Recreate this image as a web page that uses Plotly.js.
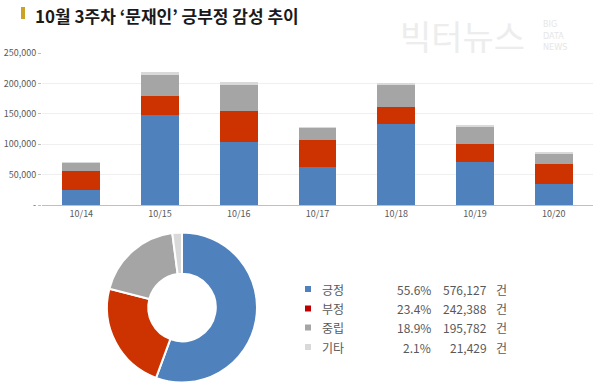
<!DOCTYPE html>
<html><head><meta charset="utf-8">
<script src="https://cdn.plot.ly/plotly-3.0.1.min.js"></script>
<style>html,body{margin:0;padding:0;background:#fff;}#chart{width:600px;height:389px;}</style>
</head><body><div id="chart"></div>
<script>
const dates = ['10/14','10/15','10/16','10/17','10/18','10/19','10/20'];
const positive = [24700,148400,103300,63200,133000,70900,34600];
const negative = [31300,30200,50600,44000,28000,29100,33000];
const neutral  = [13200,35700,43900,19200,35700,28000,16500];
const other    = [1600,4400,3900,1600,3900,3300,2700];
const seriesNames = ['긍정','부정','중립','기타'];
const barColors = ['#4F81BD','#CC3300','#A5A5A5','#D9D9D9'];
const legendColors = ['#4F81BD','#C00000','#A5A5A5','#D9D9D9'];
const totalValues = [576127,242388,195782,21429];
const yTickVals = [0,50000,100000,150000,200000,250000];
const yTickText = ['-','50,000','100,000','150,000','200,000','250,000'];

const font = "'Noto Sans CJK KR', 'Noto Sans', sans-serif";
const series = [positive, negative, neutral, other];
const traces = series.map((s,i)=>({
  type:'bar', x:dates, y:s, name:seriesNames[i],
  marker:{color:barColors[i]}, xaxis:'x', yaxis:'y', hoverinfo:'skip'
}));
traces.push({
  type:'pie', labels:seriesNames, values:totalValues, sort:false, direction:'clockwise',
  rotation:0, hole:0.45, textinfo:'none', hoverinfo:'skip',
  marker:{colors:barColors, line:{color:'#ffffff', width:2}},
  domain:{x:[107/600,257/600], y:[1-382.5/389, 1-232.5/389]}
});

const total = totalValues.reduce((a,b)=>a+b,0);
const annotations = [
  {xref:'paper', yref:'paper', x:33/600, y:1-16/389, xanchor:'left', yanchor:'middle',
   text:'<b>10월 3주차 ‘문재인’ 긍부정 감성 추이</b>', showarrow:false,
   font:{family:font, size:17, color:'#1a1a1a'}},
  {xref:'paper', yref:'paper', x:398/600, y:1-35/389, xanchor:'left', yanchor:'middle',
   text:'빅터뉴스', showarrow:false, font:{family:font, size:34, color:'#EDEDED'}},
  {xref:'paper', yref:'paper', x:541/600, y:1-35/389, xanchor:'left', yanchor:'middle',
   text:'BIG<br>DATA<br>NEWS', align:'left', showarrow:false, font:{family:'DejaVu Sans Condensed, sans-serif', size:9, color:'#E6E6E6'}}
];
const shapes = [
  {type:'rect', xref:'paper', yref:'paper', x0:21/600, x1:25/600, y0:1-19/389, y1:1-7/389,
   fillcolor:'#C9A227', line:{width:0}}
];
const rowY = [289, 308.5, 327.5, 347];
seriesNames.forEach((n,i)=>{
  const y = 1-rowY[i]/389;
  shapes.push({type:'rect', xref:'paper', yref:'paper', x0:305/600, x1:311/600,
    y0:y-3/389, y1:y+3/389, fillcolor:legendColors[i], line:{width:0}});
  annotations.push({xref:'paper', yref:'paper', x:320/600, y:y, xanchor:'left', yanchor:'middle',
    text:n, showarrow:false, font:{family:font, size:12, color:'#595959'}});
  annotations.push({xref:'paper', yref:'paper', x:433/600, y:y, xanchor:'right', yanchor:'middle',
    text:(totalValues[i]/total*100).toFixed(1)+'%', showarrow:false, font:{family:font, size:12, color:'#595959'}});
  annotations.push({xref:'paper', yref:'paper', x:489/600, y:y, xanchor:'right', yanchor:'middle',
    text:totalValues[i].toLocaleString('en-US'), showarrow:false, font:{family:font, size:12, color:'#595959'}});
  annotations.push({xref:'paper', yref:'paper', x:494/600, y:y, xanchor:'left', yanchor:'middle',
    text:'건', showarrow:false, font:{family:font, size:12, color:'#595959'}});
});

const layout = {
  width:600, height:389, margin:{l:0,r:0,t:0,b:0},
  paper_bgcolor:'#fff', plot_bgcolor:'#fff',
  barmode:'stack', bargap:0.52, showlegend:false,
  font:{family:font, color:'#595959', size:9},
  xaxis:{domain:[42/600, 593/600], anchor:'y', type:'category',
    showline:true, linecolor:'#BFBFBF', linewidth:1, ticks:'', showgrid:false,
    tickfont:{family:font, size:9, color:'#595959'}, fixedrange:true},
  yaxis:{domain:[1-205/389, 1-53/389], anchor:'x', range:[0,250000],
    tickvals:yTickVals, ticktext:yTickText, showgrid:true, gridcolor:'#EFEFEF',
    zeroline:false, ticks:'outside', ticklen:3, tickcolor:'#BFBFBF', showline:false,
    tickfont:{family:font, size:9, color:'#595959'}, fixedrange:true},
  annotations: annotations, shapes: shapes
};
Plotly.newPlot('chart', traces, layout, {staticPlot:true, displayModeBar:false});
</script></body></html>
